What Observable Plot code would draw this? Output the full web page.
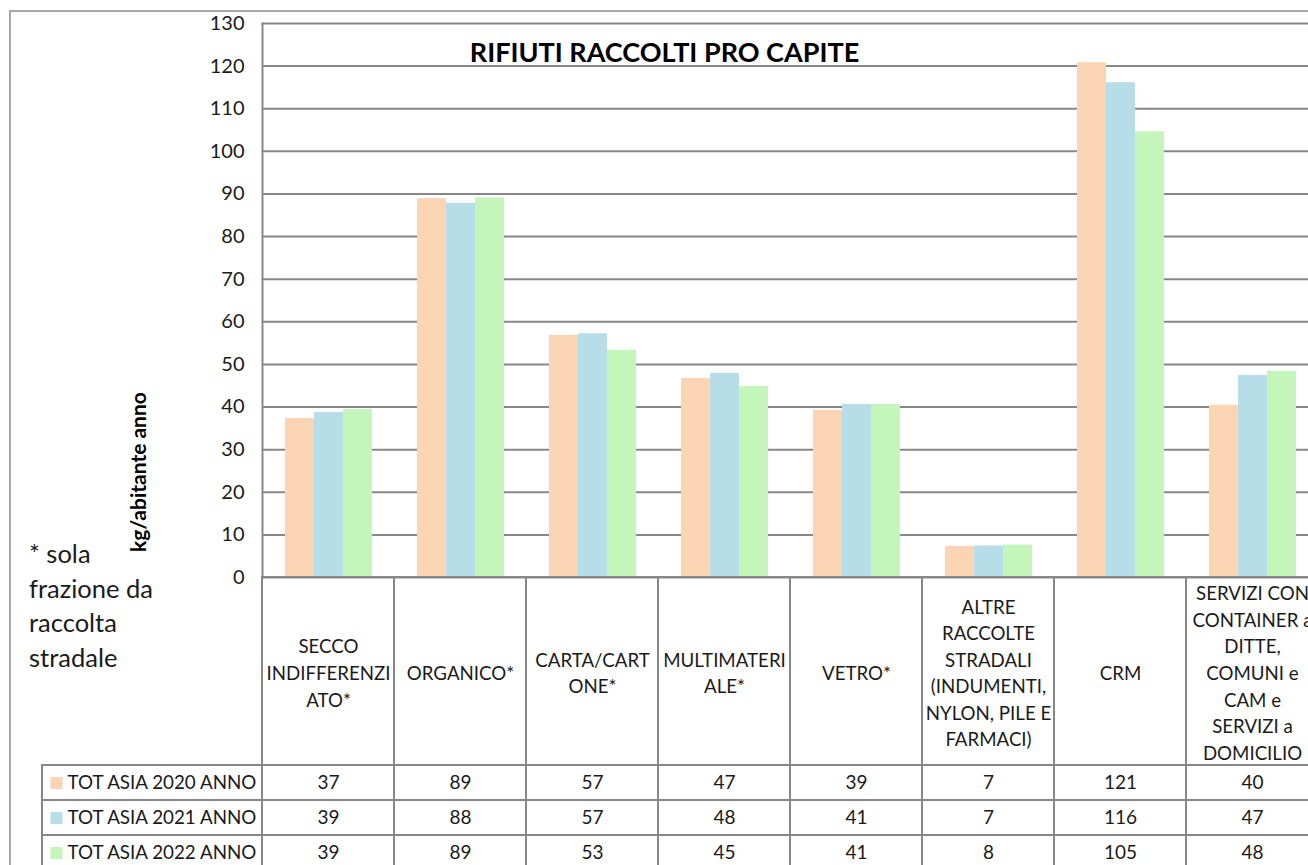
<!DOCTYPE html>
<html><head><meta charset="utf-8">
<script src="https://cdn.jsdelivr.net/npm/d3@7"></script>
<script src="https://cdn.jsdelivr.net/npm/@observablehq/plot@0.6"></script>
<style>
html,body{margin:0;padding:0;overflow:hidden;background:#fff;width:1308px;height:865px}
#root{position:relative;width:1320px;height:880px;font-family:Lato,sans-serif;color:#1a1a1a}
#root svg{max-width:none !important;position:absolute;left:0}
.frame{position:absolute;left:9px;top:10px;width:1400px;height:1000px;border-left:2px solid #a6a6a6;border-top:2px solid #a6a6a6;box-sizing:border-box}
.title{position:absolute;left:9px;width:1311px;top:36px;text-align:center;font-weight:bold;font-size:27px;color:#000;line-height:32px}
.ylabel{position:absolute;left:137px;top:472px;transform:translate(-50%,-50%) rotate(-90deg);font-weight:bold;font-size:21px;white-space:nowrap;color:#000}
.note{position:absolute;left:29px;top:536px;font-size:25.5px;line-height:34.5px;color:#1a1a1a}
</style></head>
<body><div id="root">
<div class="frame"></div>
</div>
<script>
const categories = ["SECCO\nINDIFFERENZI\nATO*", "ORGANICO*", "CARTA/CART\nONE*", "MULTIMATERI\nALE*", "VETRO*", "ALTRE\nRACCOLTE\nSTRADALI\n(INDUMENTI,\nNYLON, PILE E\nFARMACI)", "CRM", "SERVIZI CON\nCONTAINER a\nDITTE,\nCOMUNI e\nCAM e\nSERVIZI a\nDOMICILIO"];
const years = ["TOT ASIA 2020 ANNO", "TOT ASIA 2021 ANNO", "TOT ASIA 2022 ANNO"];
const values2020 = [37.3, 88.9, 56.8, 46.7, 39.2, 7.3, 120.8, 40.4];
const values2021 = [38.7, 87.8, 57.2, 47.9, 40.6, 7.4, 116.1, 47.4];
const values2022 = [39.4, 89.1, 53.3, 44.8, 40.6, 7.6, 104.6, 48.4];
const yTicks = [0, 10, 20, 30, 40, 50, 60, 70, 80, 90, 100, 110, 120, 130];
const colors = ["#FBD4B4", "#B7DEE8", "#C4F5BA"];
const titleText = "RIFIUTI RACCOLTI PRO CAPITE";
const yLabelText = "kg/abitante anno";
const noteLines = ["* sola", "frazione da", "raccolta", "stradale"];

const series = [values2020, values2021, values2022];
const rows = [];
years.forEach((yr, i) => categories.forEach((c, j) => rows.push({category: c, year: yr, value: series[i][j]})));

const gray = "#878787";
const ink = "#1a1a1a";
const root = document.getElementById("root");
const baseStyle = {background: "transparent", fontFamily: "Lato, sans-serif", fontSize: "19px", color: ink, overflow: "visible"};

const chart = Plot.plot({
  width: 1320, height: 578,
  marginTop: 23, marginBottom: 1, marginLeft: 260, marginRight: 1,
  style: baseStyle,
  fx: {domain: categories, padding: 0, axis: null},
  x: {domain: years, paddingInner: 0, paddingOuter: 0.75, axis: null},
  y: {domain: [0, 130], axis: null},
  color: {domain: years, range: colors},
  marks: [
    Plot.gridY(yTicks, {stroke: gray, strokeOpacity: 1, strokeWidth: 2}),
    Plot.axisY(yTicks, {tickSize: 0, tickPadding: 18, fontSize: 20, fill: ink, label: null}),
    Plot.barY(rows, {fx: "category", x: "year", y: "value", fill: "year"}),
    Plot.frame({anchor: "left", fx: () => categories[0], stroke: gray, strokeWidth: 2})
  ]
});
chart.style.top = "0px";
root.appendChild(chart);

const header = Plot.plot({
  width: 1320, height: 190,
  marginTop: 1, marginBottom: 1, marginLeft: 260, marginRight: 1,
  style: baseStyle,
  x: {domain: categories, padding: 0, axis: null},
  marks: [
    Plot.cell(categories, {x: d => d, fill: "none", stroke: gray, strokeWidth: 2}),
    Plot.text(categories, {x: d => d, text: d => d, lineHeight: 1.42, fontSize: 18.7, fill: ink})
  ]
});
header.style.top = "576px";
root.appendChild(header);

const table = Plot.plot({
  width: 1320, height: 107,
  marginTop: 1, marginBottom: 1, marginLeft: 260, marginRight: 1,
  style: baseStyle,
  x: {domain: categories, padding: 0, axis: null},
  y: {domain: years, padding: 0, axis: null},
  color: {domain: years, range: colors},
  marks: [
    Plot.cell(years, {y: d => d, insetLeft: -218, fill: "white", stroke: gray, strokeWidth: 2}),
    Plot.cell(rows, {x: "category", y: "year", fill: "none", stroke: gray, strokeWidth: 2}),
    Plot.text(rows, {x: "category", y: "year", text: d => String(Math.round(d.value)), fontSize: 19, fill: ink}),
    Plot.dot(years, {y: d => d, frameAnchor: "left", dx: -204, symbol: "square", r: 6.8, fill: d => d}),
    Plot.text(years, {y: d => d, text: d => d, frameAnchor: "left", dx: -193, textAnchor: "start", fontSize: 18.8, fill: ink})
  ]
});
table.style.top = "764px";
root.appendChild(table);

const t = document.createElement("div"); t.className = "title"; t.textContent = titleText; root.appendChild(t);
const yl = document.createElement("div"); yl.className = "ylabel"; yl.textContent = yLabelText; root.appendChild(yl);
const nt = document.createElement("div"); nt.className = "note"; nt.innerHTML = noteLines.join("<br>"); root.appendChild(nt);
</script>
</body></html>
